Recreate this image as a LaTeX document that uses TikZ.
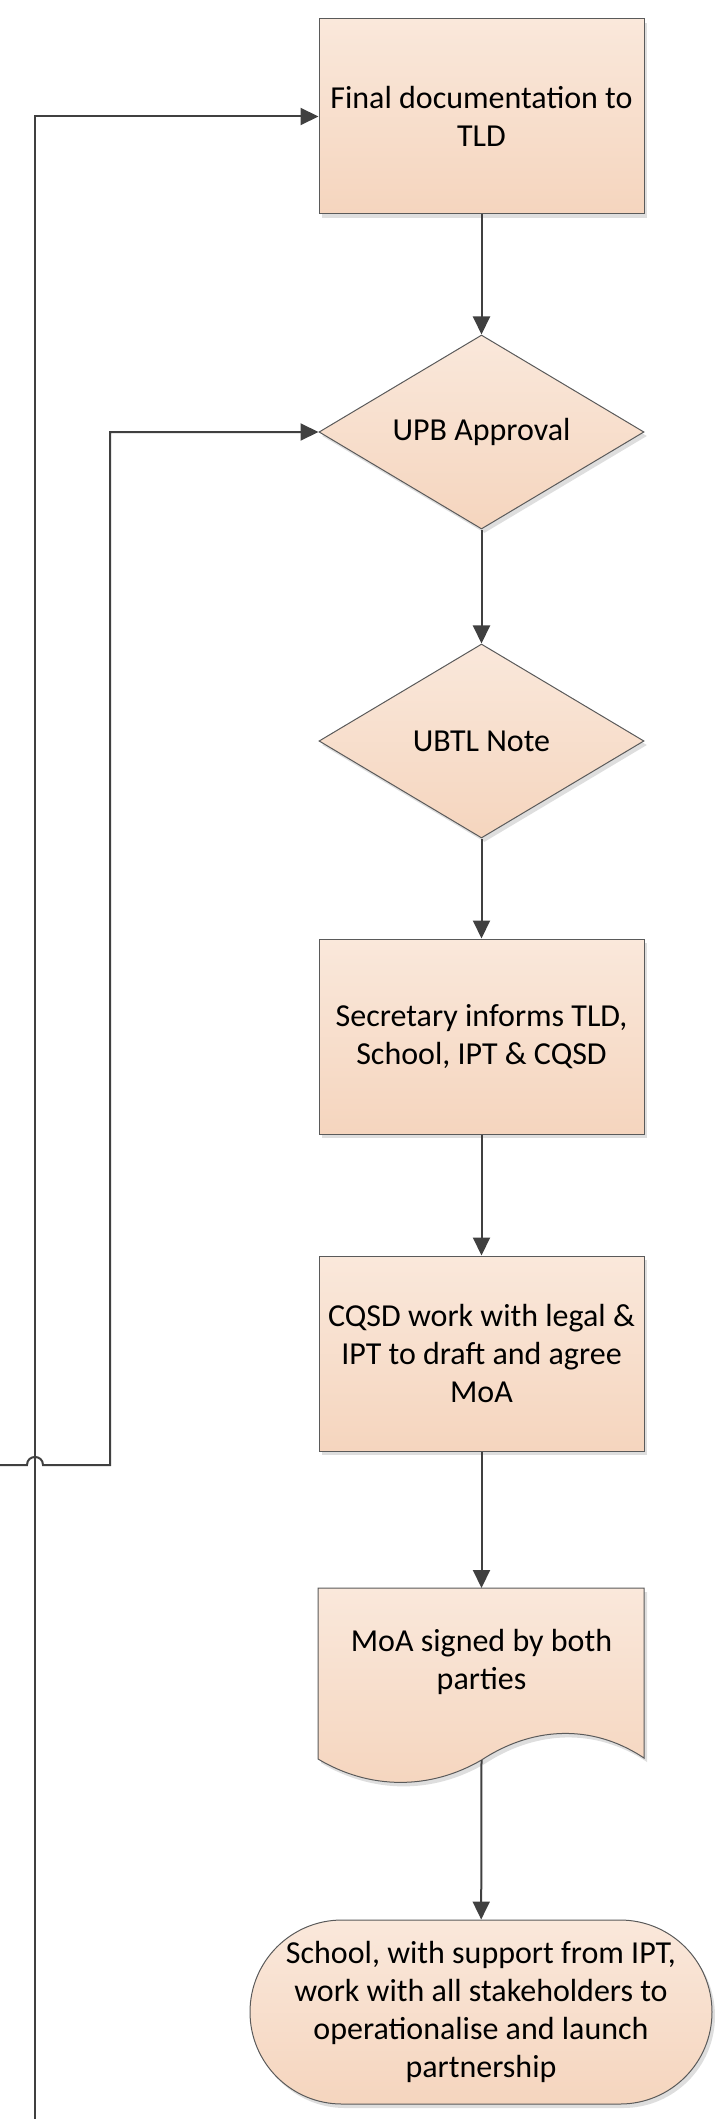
\documentclass[tikz,border=0pt]{standalone}
\usepackage{fontspec}
\setmainfont{Carlito}
\usetikzlibrary{shapes.geometric,shapes.misc,arrows.meta,shadows}
\definecolor{linec}{RGB}{64,64,64}
\definecolor{bordc}{RGB}{90,90,90}
\definecolor{ftop}{RGB}{250,232,219}
\definecolor{fbot}{RGB}{245,213,190}
\definecolor{shad}{RGB}{222,222,222}
\tikzset{
  shp/.style={draw=bordc, line width=0.5pt, top color=ftop, bottom color=fbot,
    general shadow={fill=shad, shadow xshift=1.5pt, shadow yshift=-2pt},
    align=center, font=\fontsize{16}{19}\selectfont, inner sep=0pt},
  procbox/.style={shp, rectangle, minimum width=162.5pt, minimum height=97.5pt},
  decis/.style={shp, diamond, aspect=1.675, minimum width=162.5pt, minimum height=97pt},
  termin/.style={shp, rounded rectangle, minimum width=231pt, minimum height=92pt},
  conn/.style={draw=linec, line width=1pt, -{Triangle[length=9pt,width=8.5pt]}},
  lbl/.style={align=center, font=\fontsize{16}{19}\selectfont, inner sep=0pt}
}
\begin{document}
\begin{tikzpicture}[x=0.5pt,y=-0.5pt]
\useasboundingbox (0,0) rectangle (717,2119);

% nodes
\node[procbox] (b1) at (481.5,116.5) {Final documentation to\\TLD};
\node[decis] (d1) at (481.5,432) {UPB Approval};
\node[decis] (d2) at (481.5,741) {UBTL Note};
\node[procbox] (b3) at (481.5,1036.5) {Secretary informs TLD,\\School, IPT \& CQSD};
\node[procbox] (b4) at (481.5,1353.5) {CQSD work with legal \&\\IPT to draft and agree\\MoA};

% document shape
\fill[shad, shift={(1.5pt,-2pt)}] (318,1588) -- (644,1588) -- (644,1758)
  .. controls (590,1722) and (530,1728) .. (481.5,1760)
  .. controls (430,1790) and (370,1790) .. (318,1759) -- cycle;
\draw[draw=bordc, line width=0.5pt, top color=ftop, bottom color=fbot]
  (318,1588) -- (644,1588) -- (644,1758)
  .. controls (590,1722) and (530,1728) .. (481.5,1760)
  .. controls (430,1790) and (370,1790) .. (318,1759) -- cycle;
\node[lbl] (doc) at (481.5,1662) {MoA signed by both\\parties};
\coordinate (doctop) at (481.5,1588);
\coordinate (docbot) at (481.5,1760);

\node[termin] (t) at (481,2012) {School, with support from IPT,\\work with all stakeholders to\\operationalise and launch\\partnership};

% main flow
\draw[conn] (b1) -- (d1);
\draw[conn] (d1) -- (d2);
\draw[conn] (d2) -- (b3);
\draw[conn] (b3) -- (b4);
\draw[conn] (b4) -- (doctop);
\draw[conn] (docbot) -- (t);

% loops
\coordinate (l1s) at (35,2119);
\draw[conn] (l1s) |- (b1.west);
\coordinate (l2s) at (0,1465);
\coordinate (hopa) at (27,1465);
\coordinate (hopb) at (43,1465);
\coordinate (l2c) at (110,1465);
\draw[conn] (l2s) -- (hopa) .. controls (27,1454.3) and (43,1454.3) .. (hopb) -- (l2c) |- (d1.west);
\end{tikzpicture}
\end{document}
